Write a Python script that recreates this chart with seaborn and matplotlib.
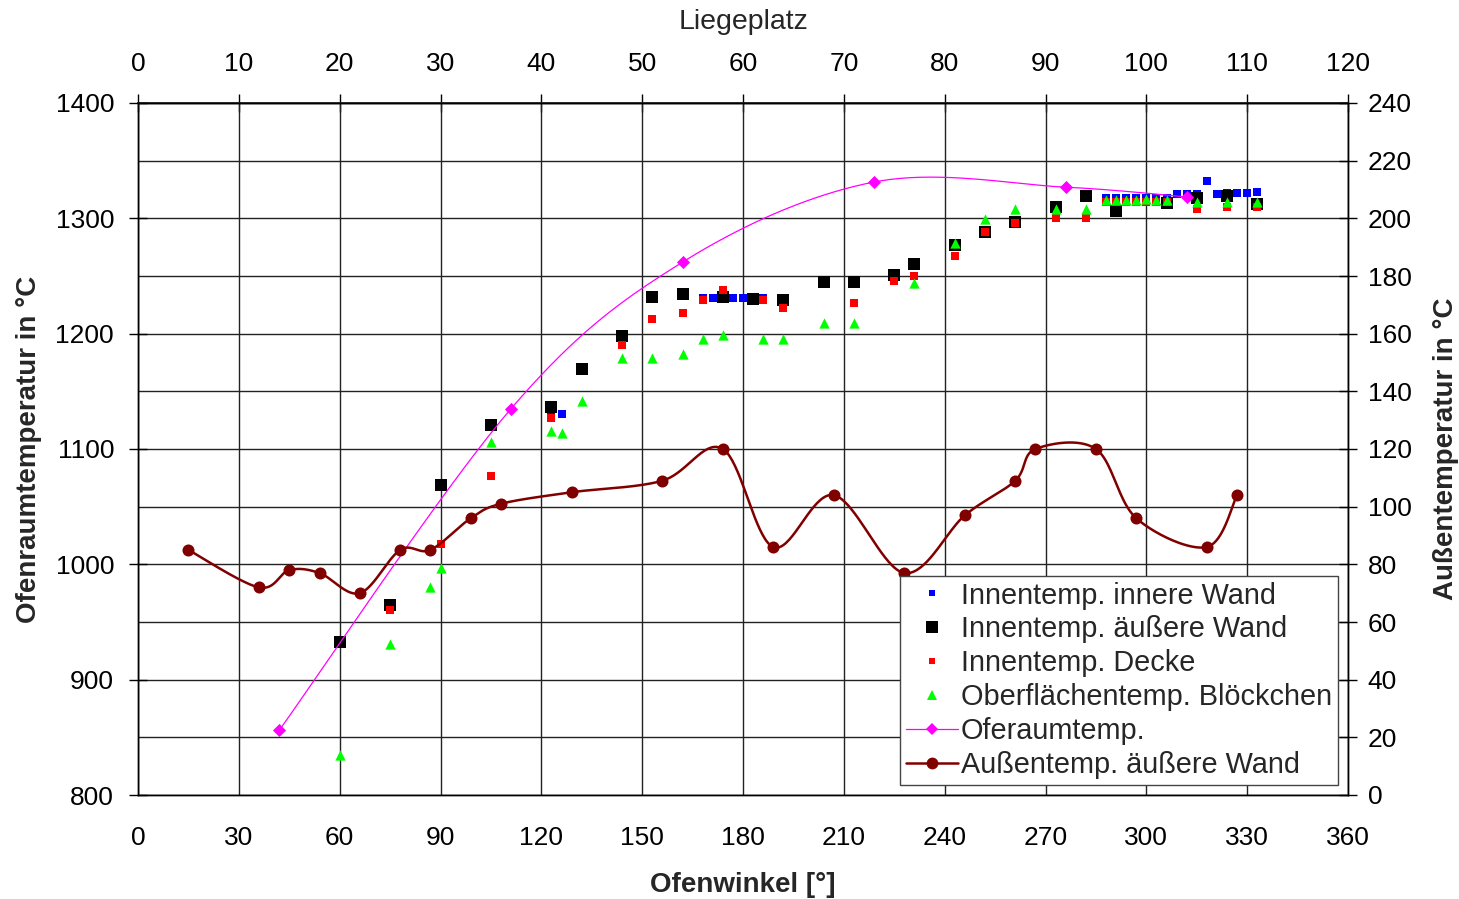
import numpy as np
import matplotlib
matplotlib.use("Agg")
import matplotlib.pyplot as plt
from matplotlib.lines import Line2D
import seaborn as sns

# ---------------- data ----------------
innere_x = [123, 126, 168, 171, 174, 177, 180, 183, 186,
            288, 291, 294, 297, 300, 303, 306, 309, 312, 315, 318, 321, 324, 327, 330, 333]
innere_y = [1131, 1130, 1231, 1231, 1231, 1231, 1231, 1231, 1231,
            1318, 1318, 1318, 1318, 1318, 1318, 1318, 1321, 1321, 1321, 1332, 1321, 1322, 1322, 1322, 1323]

aeussere_x = [60, 75, 90, 105, 123, 132, 144, 153, 162, 174, 183, 192, 204, 213, 225, 231,
              243, 252, 261, 273, 282, 291, 306, 315, 324, 333]
aeussere_y = [933, 965, 1069, 1121, 1136, 1169, 1198, 1232, 1234, 1232, 1230, 1229, 1245, 1245, 1251, 1260,
              1277, 1288, 1297, 1310, 1319, 1306, 1313, 1318, 1319, 1312]

decke_x = [75, 90, 105, 123, 144, 153, 162, 168, 174, 186, 192, 213, 225, 231, 243, 252, 261, 273, 282,
           288, 291, 294, 297, 300, 303, 306, 315, 324, 333]
decke_y = [960, 1018, 1077, 1127, 1190, 1213, 1218, 1229, 1238, 1229, 1222, 1227, 1246, 1250, 1267, 1288, 1296, 1300, 1300,
           1314, 1314, 1314, 1314, 1314, 1314, 1314, 1308, 1310, 1310]

bloeck_x = [60, 75, 87, 90, 105, 123, 126, 132, 144, 153, 162, 168, 174, 186, 192, 204, 213, 231, 243, 252, 261,
            273, 282, 288, 291, 294, 297, 300, 303, 306, 315, 324, 333]
bloeck_y = [835, 931, 980, 997, 1106, 1116, 1114, 1142, 1179, 1179, 1182, 1195, 1199, 1195, 1195, 1209, 1209, 1244,
            1279, 1299, 1308, 1308, 1308, 1316, 1316, 1316, 1316, 1317, 1316, 1316, 1314, 1314, 1314]

ofen_x = [42, 111, 162, 219, 276, 312]
ofen_y = [856, 1135, 1262, 1331.5, 1327, 1318.5]

aussen_x = [15, 36, 45, 54, 66, 78, 87, 99, 108, 129, 156, 174, 189, 207, 228, 246, 261, 267, 285, 297, 318, 327]
aussen_y = [85, 72, 78, 77, 70, 85, 85, 96, 101, 105, 109, 120, 86, 104, 77, 97, 109, 120, 120, 96, 86, 104]

labels = ["Innentemp. innere Wand", "Innentemp. äußere Wand", "Innentemp. Decke",
          "Oberflächentemp. Blöckchen", "Oferaumtemp.", "Außentemp. äußere Wand"]


def smooth(xs, ys, n=40):
    """Excel-like smoothed line (Catmull-Rom Bezier) through the data points."""
    P = np.column_stack([xs, ys]).astype(float)
    P = np.vstack([P[0], P, P[-1]])
    out = []
    t = np.linspace(0, 1, n)
    for i in range(1, len(P) - 2):
        p0, p1, p2, p3 = P[i - 1], P[i], P[i + 1], P[i + 2]
        c1 = p1 + (p2 - p0) / 6.0
        c2 = p2 - (p3 - p1) / 6.0
        seg = ((1 - t) ** 3)[:, None] * p1 + (3 * (1 - t) ** 2 * t)[:, None] * c1 \
            + (3 * (1 - t) * t ** 2)[:, None] * c2 + (t ** 3)[:, None] * p2
        out.append(seg)
    out = np.vstack(out)
    return out[:, 0], out[:, 1]


# ---------------- figure ----------------
sns.set_theme(style="white")
plt.rcParams['font.family'] = ['Liberation Sans', 'DejaVu Sans']

fig = plt.figure(figsize=(14.59, 8.99), dpi=100)
ax = fig.add_axes([138 / 1459, 1 - 795 / 899, 1210 / 1459, 692 / 899])
ax2 = ax.twinx()

grid_c = "#222222"
ax.set_xlim(0, 360)
ax.set_ylim(800, 1400)
ax2.set_ylim(0, 240)
ax.set_xticks(np.arange(0, 361, 30))
ax.set_yticks(np.arange(800, 1401, 100))
ax.set_yticks(np.arange(850, 1400, 100), minor=True)
ax2.set_yticks(np.arange(0, 241, 20))
ax.grid(True, which="both", axis="y", color=grid_c, lw=1.0)
ax.grid(True, which="major", axis="x", color=grid_c, lw=1.0)
ax.set_axisbelow(True)

fs = 19
lfs = 20
tl = 12.5
ax.tick_params(axis="x", which="major", direction="inout", length=tl, width=1, labelsize=fs,
               colors="black", pad=16)
ax.tick_params(axis="y", which="major", direction="inout", length=tl, width=1, labelsize=fs,
               colors="black", pad=11)
ax.tick_params(axis="y", which="minor", length=0)
ax2.tick_params(axis="y", direction="inout", length=tl, width=1, labelsize=fs, colors="black", pad=8)
for a in (ax, ax2):
    for s in a.spines.values():
        s.set_color("black")
        s.set_linewidth(1.0)

# scatter series (seaborn)
sns.scatterplot(x=innere_x, y=innere_y, ax=ax, marker="s", s=28, color="#0000FF", linewidth=0, zorder=3)
sns.scatterplot(x=aeussere_x, y=aeussere_y, ax=ax, marker="s", s=80, color="black", linewidth=0, zorder=4)
sns.scatterplot(x=decke_x, y=decke_y, ax=ax, marker="s", s=28, color="#FF0000", linewidth=0, zorder=5)
sns.scatterplot(x=bloeck_x, y=bloeck_y, ax=ax, marker="^", s=55, color="#00FF00", linewidth=0, zorder=6)

# Oferaumtemp: smooth line with diamonds
sx, sy = smooth(ofen_x, ofen_y)
sns.lineplot(x=sx, y=sy, ax=ax, sort=False, estimator=None, color="#FF00FF", lw=0.9, zorder=7)
sns.scatterplot(x=ofen_x, y=ofen_y, ax=ax, marker="D", s=45, color="#FF00FF", linewidth=0, zorder=8)

# Außentemp: secondary axis
ax2x, ax2y = smooth(aussen_x, aussen_y)
sns.lineplot(x=ax2x, y=ax2y, ax=ax2, sort=False, estimator=None, color="#800000", lw=1.8, zorder=3)
sns.scatterplot(x=aussen_x, y=aussen_y, ax=ax2, marker="o", s=75, color="#800000", linewidth=0, zorder=4)

ax.set_xlabel("Ofenwinkel [°]", fontsize=lfs, fontweight="bold", labelpad=16)
ax.set_ylabel("Ofenraumtemperatur in °C", fontsize=lfs, fontweight="bold", labelpad=10)
ax2.set_ylabel("Außentemperatur in °C", fontsize=lfs, fontweight="bold", labelpad=15)

# top axis: Liegeplatz
top = ax.secondary_xaxis("top", functions=(lambda v: v / 3.0, lambda v: v * 3.0))
top.set_xticks(np.arange(0, 121, 10))
top.tick_params(direction="inout", length=tl, width=1, labelsize=fs, colors="black", pad=13)
top.set_xlabel("Liegeplatz", fontsize=20.5, labelpad=17)

# legend
handles = [
    Line2D([], [], ls="none", marker="s", ms=5, color="#0000FF", mew=0),
    Line2D([], [], ls="none", marker="s", ms=9, color="black", mew=0),
    Line2D([], [], ls="none", marker="s", ms=5, color="#FF0000", mew=0),
    Line2D([], [], ls="none", marker="^", ms=7.5, color="#00FF00", mew=0),
    Line2D([], [], ls="-", lw=0.9, marker="D", ms=6.5, color="#FF00FF", mew=0),
    Line2D([], [], ls="-", lw=1.8, marker="o", ms=8.5, color="#800000", mew=0),
]
leg = ax2.legend(handles, labels, loc="lower right", bbox_to_anchor=(0.9917, 0.0145),
                 prop={"size": 20.8}, frameon=True, fancybox=False, framealpha=1, edgecolor="#444444",
                 borderpad=0.2, labelspacing=0.205, handlelength=1.8, handletextpad=0.12,
                 borderaxespad=0, numpoints=1)
leg.get_frame().set_linewidth(1.0)

fig.savefig("out.png", dpi=100)
